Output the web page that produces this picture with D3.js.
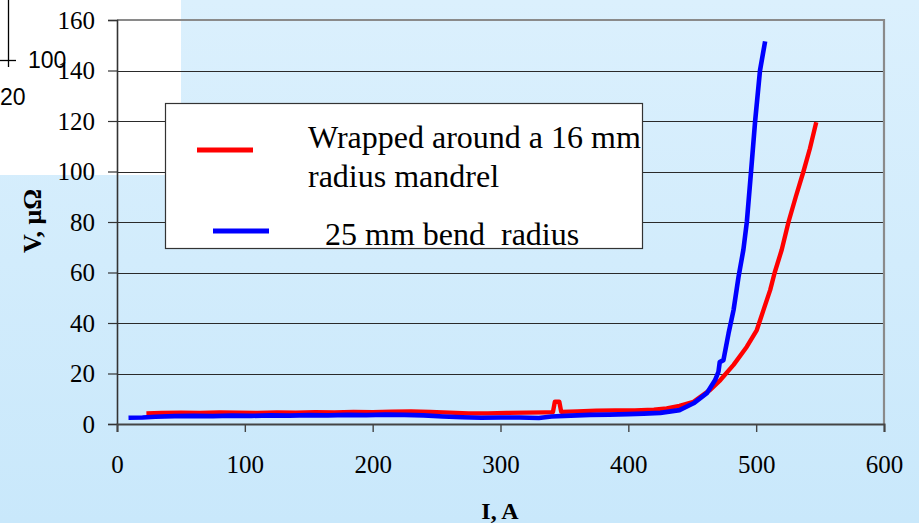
<!DOCTYPE html>
<html>
<head>
<meta charset="utf-8">
<script src="https://cdn.jsdelivr.net/npm/d3@7"></script>
<style>
  html, body { margin: 0; padding: 0; background: #d4edfc; }
  svg { display: block; }
  text { font-family: "Liberation Serif", "Times New Roman", serif; fill: #000; }
</style>
</head>
<body>
<svg id="chart" width="919" height="523"></svg>
<script>
// Current I (A) and voltage V (µΩ) for the two bend conditions
const redI = [23, 35, 50, 65, 80, 95, 110, 125, 140, 155, 170, 185, 200, 215, 230, 245, 260, 275, 290, 305, 320, 335, 341, 342.5, 346, 347.5, 360, 375, 390, 405, 420, 430, 440, 451, 464, 472, 482.3, 492.7, 500.5, 505.7, 511, 514.5, 520, 525.3, 531, 537, 542, 547];
const redV = [4.2, 4.4, 4.5, 4.4, 4.6, 4.5, 4.4, 4.6, 4.5, 4.7, 4.6, 4.8, 4.7, 4.9, 5.0, 4.8, 4.5, 4.2, 4.2, 4.4, 4.5, 4.6, 4.7, 8.8, 8.8, 4.8, 5.0, 5.3, 5.4, 5.4, 5.7, 6.2, 7.2, 8.8, 13.5, 17.4, 23.4, 30.6, 37.2, 45.1, 53.1, 60, 69, 80, 90, 100, 109, 119.5];

const blueI = [9, 20, 30, 45, 60, 75, 90, 105, 120, 135, 150, 165, 180, 195, 210, 225, 240, 255, 270, 285, 300, 315, 330, 340, 355, 370, 385, 400, 412, 425, 440, 451, 461.4, 467.9, 470.5, 471.5, 474.4, 478.4, 482.3, 486.2, 490, 492.7, 496, 499.2, 503, 507];
const blueV = [2.5, 2.6, 2.9, 3.1, 3.2, 3.1, 3.3, 3.2, 3.4, 3.3, 3.5, 3.4, 3.6, 3.5, 3.7, 3.6, 3.4, 3.0, 2.7, 2.5, 2.6, 2.6, 2.4, 3.0, 3.3, 3.6, 3.7, 3.9, 4.1, 4.4, 5.5, 8.2, 12.2, 17.4, 20.7, 24.5, 25.3, 35.9, 45.1, 58.3, 69, 80, 100, 120, 140, 151.5];

const xTicks = [0, 100, 200, 300, 400, 500, 600];
const yTicks = [0, 20, 40, 60, 80, 100, 120, 140, 160];

const seriesNames = ["Wrapped around a 16 mm", "radius mandrel", "25 mm bend  radius"];
const seriesColors = ["#ff0000", "#0000ff"];

const svg = d3.select("#chart");
const W = 919, H = 523;

const x = d3.scaleLinear().domain([0, 600]).range([117, 884]);
const y = d3.scaleLinear().domain([0, 160]).range([424, 20]);

// page background: soft vertical blue gradient
const defs = svg.append("defs");
const grad = defs.append("linearGradient").attr("id", "bg").attr("x1", 0).attr("y1", 0).attr("x2", 0).attr("y2", 1);
grad.append("stop").attr("offset", "0%").attr("stop-color", "#dbf0fd");
grad.append("stop").attr("offset", "100%").attr("stop-color", "#c9e8fb");
svg.append("rect").attr("width", W).attr("height", H).attr("fill", "url(#bg)");

// white panel in the top-left corner with a partial axis of another plot
const panel = svg.append("g");
panel.append("rect").attr("x", 0).attr("y", 0).attr("width", 181).attr("height", 175).attr("fill", "#ffffff");
panel.append("line").attr("x1", 8.5).attr("x2", 8.5).attr("y1", 0).attr("y2", 67).attr("stroke", "#000").attr("stroke-width", 1.3);
panel.append("line").attr("x1", 0).attr("x2", 16).attr("y1", 60.5).attr("y2", 60.5).attr("stroke", "#000").attr("stroke-width", 1.3);
panel.append("text").attr("x", 28).attr("y", 68).style("font-family", "'Liberation Sans', Arial, sans-serif").style("font-size", "23px").text("100");
panel.append("text").attr("x", 0).attr("y", 105).style("font-family", "'Liberation Sans', Arial, sans-serif").style("font-size", "23px").text("20");

// horizontal gridlines
svg.append("g")
  .selectAll("line")
  .data(yTicks.filter(v => v > 0 && v < 160))
  .join("line")
  .attr("x1", x(0)).attr("x2", x(600))
  .attr("y1", d => Math.round(y(d)) + 0.5).attr("y2", d => Math.round(y(d)) + 0.5)
  .attr("stroke", "#2a2a2a").attr("stroke-width", 1.2);

// plot frame on the top and right
svg.append("path")
  .attr("d", `M${x(0)},${y(160)}H${x(600)}V${y(0)}`)
  .attr("fill", "none").attr("stroke", "#8a8a8a").attr("stroke-width", 2.2);

// y axis
const yAxis = svg.append("g")
  .attr("transform", `translate(${x(0)},0)`)
  .call(d3.axisLeft(y).tickValues(yTicks).tickSize(9).tickPadding(13).tickFormat(d3.format("d")));
yAxis.select(".domain").attr("stroke", "#333").attr("stroke-width", 1.6);
yAxis.selectAll(".tick line").attr("stroke", "#333").attr("stroke-width", 1.2);
yAxis.selectAll(".tick text").style("font-family", "'Liberation Serif', serif").style("font-size", "25px").attr("fill", "#000");

// x axis
const xAxis = svg.append("g")
  .attr("transform", `translate(0,${y(0)})`)
  .call(d3.axisBottom(x).tickValues(xTicks).tickSize(8).tickFormat(d3.format("d")));
xAxis.select(".domain").attr("stroke", "#444").attr("stroke-width", 2);
xAxis.selectAll(".tick line").attr("stroke", "#444").attr("stroke-width", 1.4);
xAxis.selectAll(".tick text").style("font-family", "'Liberation Serif', serif").style("font-size", "25px")
  .attr("fill", "#000").attr("y", 49).attr("dy", null);

// axis titles
svg.append("text").attr("x", 500).attr("y", 519).attr("text-anchor", "middle")
  .style("font-size", "24px").style("font-weight", "bold").text("I, A");
svg.append("text").attr("transform", "translate(41,221) rotate(-90)").attr("text-anchor", "middle")
  .style("font-size", "26px").style("font-weight", "bold").text("V, μΩ");

// data lines
const line = d3.line().x(d => x(d[0])).y(d => y(d[1]));
const redPts = d3.zip(redI, redV);
const bluePts = d3.zip(blueI, blueV);
svg.append("path").datum(redPts).attr("d", line).attr("fill", "none")
  .attr("stroke", seriesColors[0]).attr("stroke-width", 4.4).attr("stroke-linejoin", "round");
svg.append("path").datum(bluePts).attr("d", line).attr("fill", "none")
  .attr("stroke", seriesColors[1]).attr("stroke-width", 4.6).attr("stroke-linejoin", "round");

// legend
const lg = svg.append("g");
lg.append("rect").attr("x", 165.5).attr("y", 103.5).attr("width", 477).attr("height", 145)
  .attr("fill", "#ffffff").attr("stroke", "#333").attr("stroke-width", 1.2);
lg.append("line").attr("x1", 197).attr("x2", 253).attr("y1", 150).attr("y2", 150)
  .attr("stroke", seriesColors[0]).attr("stroke-width", 5);
lg.append("line").attr("x1", 213).attr("x2", 269).attr("y1", 231).attr("y2", 231)
  .attr("stroke", seriesColors[1]).attr("stroke-width", 5);
lg.append("text").attr("x", 308).attr("y", 148).style("font-size", "32px").text(seriesNames[0]);
lg.append("text").attr("x", 308).attr("y", 187).style("font-size", "32px").text(seriesNames[1]);
lg.append("text").attr("x", 325).attr("y", 245).style("font-size", "32px").style("white-space", "pre").text(seriesNames[2]);
</script>
</body>
</html>
